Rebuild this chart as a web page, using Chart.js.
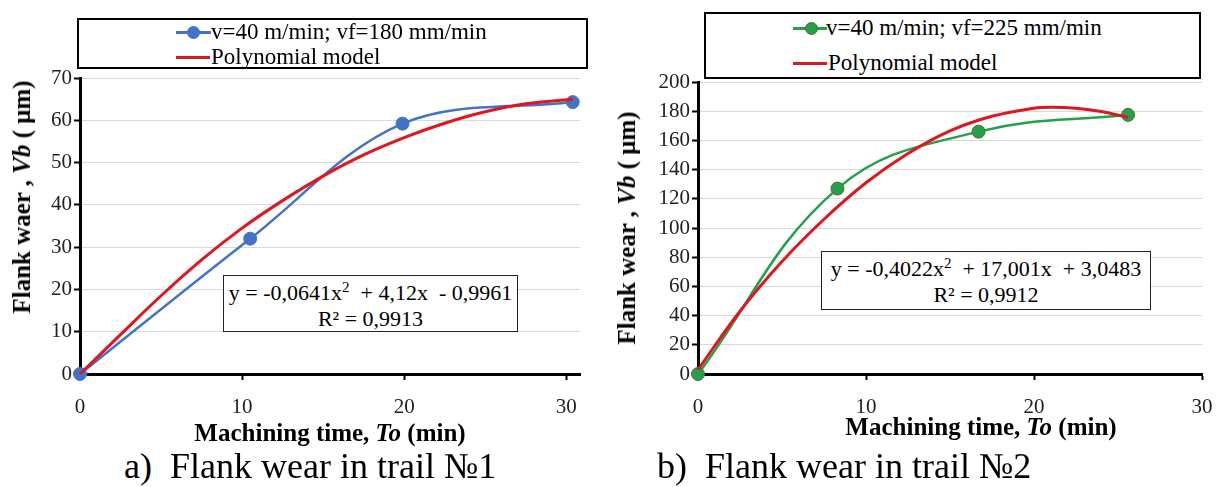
<!DOCTYPE html>
<html><head><meta charset="utf-8">
<script src="https://cdn.jsdelivr.net/npm/chart.js@4"></script>
<style>
*{font-family:'Liberation Serif', serif}
body{margin:0;width:1218px;height:487px;background:#fff;position:relative;overflow:hidden;color:#000}
canvas{position:absolute;top:0}
.box{position:absolute;border:2px solid #000;background:#fff;box-sizing:border-box}
.eq{position:absolute;border:1.5px solid #222;background:#fff;box-sizing:border-box;text-align:center;font-size:22px;line-height:26px;white-space:nowrap}
.lgt{position:absolute;white-space:nowrap;font-size:23px;height:30px;line-height:30px}
.ln{position:absolute;height:3px}
.dot{position:absolute;width:13px;height:13px;border-radius:50%;box-sizing:border-box}
.xt{position:absolute;white-space:nowrap;font-weight:bold;font-size:25px;height:30px;line-height:30px;transform:translateX(-50%)}
.yt{position:absolute;white-space:nowrap;font-weight:bold;font-size:25px;height:30px;line-height:30px;transform:translate(-50%,-50%) rotate(-90deg)}
.cap{position:absolute;white-space:nowrap;font-size:36px;height:40px;line-height:40px}
</style></head>
<body>
<canvas id="c1" width="609" height="420" style="left:0"></canvas>
<canvas id="c2" width="609" height="420" style="left:609px"></canvas>

<div class="box" style="left:77px;top:18px;width:511px;height:51px"></div>
<div class="ln" style="left:176px;top:31px;width:35px;background:#4472C4"></div>
<div class="dot" style="left:187px;top:26px;background:#4472C4"></div>
<div class="lgt" style="left:211px;top:17px">v=40 m/min; vf=180 mm/min</div>
<div class="ln" style="left:176px;top:56px;width:34px;background:#E0161E"></div>
<div class="lgt" style="left:211px;top:42px">Polynomial model</div>

<div class="box" style="left:704px;top:12px;width:497px;height:67px"></div>
<div class="ln" style="left:793px;top:27px;width:34px;background:#22A04B"></div>
<div class="dot" style="left:805px;top:22px;background:#22A04B;border:1px solid #5a6b2a"></div>
<div class="lgt" style="left:826px;top:13px">v=40 m/min; vf=225 mm/min</div>
<div class="ln" style="left:793px;top:62px;width:34px;background:#E0161E"></div>
<div class="lgt" style="left:828px;top:48px">Polynomial model</div>

<div class="eq" style="left:223px;top:275px;width:295px;height:57px;padding-top:4px">y = -0,0641x<sup style="font-size:15px;line-height:0">2</sup>&nbsp; + 4,12x&nbsp; - 0,9961<br>R² = 0,9913</div>
<div class="eq" style="left:821px;top:251px;width:330px;height:59px;padding-top:4px">y = -0,4022x<sup style="font-size:15px;line-height:0">2</sup>&nbsp; + 17,001x&nbsp; + 3,0483<br>R² = 0,9912</div>

<div class="xt" style="left:330px;top:418px">Machining time, <i>To</i> (min)</div>
<div class="xt" style="left:981px;top:412px">Machining time, <i>To</i> (min)</div>
<div class="yt" style="left:22px;top:197px">Flank waer , <i>Vb</i> ( μm)</div>
<div class="yt" style="left:627px;top:228px">Flank wear , <i>Vb</i> ( μm)</div>

<div class="cap" style="left:124px;top:446px">a)</div>
<div class="cap" style="left:170px;top:446px">Flank wear in trail №1</div>
<div class="cap" style="left:657px;top:446px">b)</div>
<div class="cap" style="left:705px;top:446px">Flank wear in trail №2</div>

<script>
// Trail 1 data (v=40 m/min; vf=180 mm/min)
const leftX = [0, 10.5, 19.9, 30.4];
const leftY = [0, 32, 59.2, 64.3];
// Polynomial model curve for trail 1
const leftModelX = [0, 2.5, 5, 7.5, 10, 12.5, 15, 17.5, 20, 22.5, 25, 27.5, 30.4];
const leftModelY = [0, 9.3, 18.5, 27, 34.5, 41, 46.8, 51.8, 55.9, 59.3, 62, 63.9, 65];
// Trail 2 data (v=40 m/min; vf=225 mm/min)
const rightX = [0, 8.3, 16.7, 25.6];
const rightY = [0, 127, 166, 177.5];
// Polynomial model curve for trail 2
const rightModelX = [0, 2.5, 5, 7.5, 10, 12.5, 15, 17.5, 20, 21.1, 22.5, 24, 25.6];
const rightModelY = [3, 43, 77, 106, 131, 151, 166.5, 176.5, 182, 182.7, 182, 179.8, 175.7];
// Tick labels
const xTicks = [0, 10, 20, 30];
const leftYTicks = [0, 10, 20, 30, 40, 50, 60, 70];
const rightYTicks = [0, 20, 40, 60, 80, 100, 120, 140, 160, 180, 200];

const RED = '#E0161E';
Chart.defaults.font.family = 'Liberation Serif';
const tickFont = {family: 'Liberation Serif', size: 21};

function pts(xs, ys){ return xs.map((x, i) => ({x: x, y: ys[i]})); }

function build(id, c){
  new Chart(document.getElementById(id), {
    type: 'scatter',
    data: {datasets: [
      {label: 'Polynomial model', data: pts(c.mx, c.my), showLine: true, borderColor: RED,
       borderWidth: 3, pointRadius: 0, tension: 0.4, order: 0, clip: false},
      {label: c.label, data: pts(c.x, c.y), showLine: true, borderColor: c.color, borderWidth: 2.5,
       pointRadius: 6.5, pointBackgroundColor: c.color, pointBorderColor: c.pb, pointBorderWidth: 1,
       tension: c.tension, order: 1, clip: false}
    ]},
    options: {
      responsive: false, animation: false, devicePixelRatio: 1,
      layout: {padding: {left: 0, right: c.padR, top: c.padT, bottom: 0}},
      plugins: {legend: {display: false}, tooltip: {enabled: false}},
      scales: {
        x: {type: 'linear', min: 0, max: c.xmax,
          afterBuildTicks: s => { s.ticks = xTicks.map(v => ({value: v})); },
          afterFit: s => { s.height = 46; s.paddingRight = 0; s.paddingLeft = 0; },
          grid: {drawOnChartArea: false, drawTicks: true, tickLength: 6, tickWidth: 2, tickColor: '#000'},
          border: {color: '#000', width: 3},
          ticks: {font: tickFont, color: '#222', padding: 15, maxRotation: 0, autoSkip: false}},
        y: {type: 'linear', min: 0, max: c.ymax,
          afterBuildTicks: s => { s.ticks = c.yt.map(v => ({value: v})); },
          afterFit: s => { s.width = c.yw; },
          grid: {color: '#d9d9d9', lineWidth: 1, tickLength: 6, tickWidth: 2, tickColor: '#000'},
          border: {color: '#000', width: 3},
          ticks: {font: tickFont, color: '#222', padding: 2, autoSkip: false}}
      }
    }
  });
}

build('c1', {x: leftX, y: leftY, mx: leftModelX, my: leftModelY, label: 'v=40 m/min; vf=180 mm/min',
  color: '#4472C4', pb: '#4472C4', tension: 0.35, xmax: 30.85, ymax: 70, yt: leftYTicks, yw: 80, padR: 29, padT: 78});
build('c2', {x: rightX, y: rightY, mx: rightModelX, my: rightModelY, label: 'v=40 m/min; vf=225 mm/min',
  color: '#22A04B', pb: '#5a6b2a', tension: 0.4, xmax: 30, ymax: 200, yt: rightYTicks, yw: 89, padR: 16, padT: 82});
</script>
</body></html>
